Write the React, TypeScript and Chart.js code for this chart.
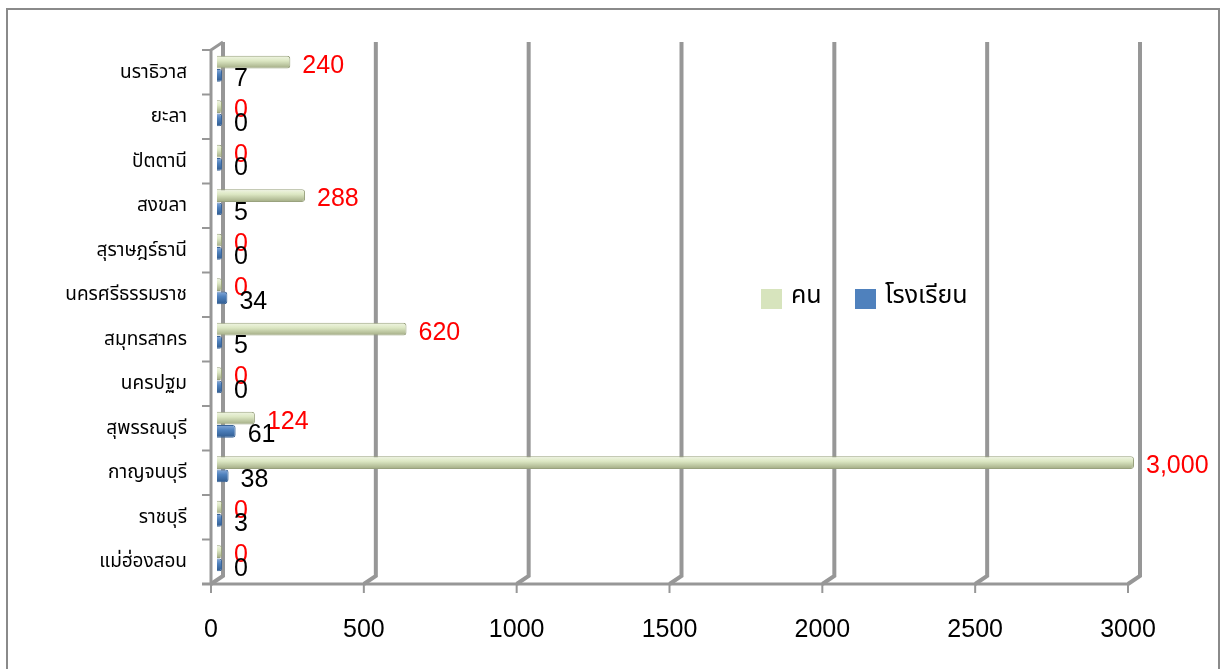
import React, { useEffect, useRef } from 'react';
import { Chart, registerables } from 'chart.js';

Chart.register(...registerables);

const provinces = [
  'นราธิวาส',
  'ยะลา',
  'ปัตตานี',
  'สงขลา',
  'สุราษฎร์ธานี',
  'นครศรีธรรมราช',
  'สมุทรสาคร',
  'นครปฐม',
  'สุพรรณบุรี',
  'กาญจนบุรี',
  'ราชบุรี',
  'แม่ฮ่องสอน',
];
const people = [240, 0, 0, 288, 0, 0, 620, 0, 124, 3000, 0, 0];
const schools = [7, 0, 0, 5, 0, 34, 5, 0, 61, 38, 3, 0];
const seriesNames = ['คน', 'โรงเรียน'];
const xTicks = [0, 500, 1000, 1500, 2000, 2500, 3000];

const NUM_FONT = '"Liberation Sans", Arial, sans-serif';
const THAI_FONT = '"Noto Sans Thai", Tahoma, "Noto Sans", "DejaVu Sans", sans-serif';
const CAT_PCT = 0.6;
const BAR_PCT = 0.95;
const BACK = { dx: 6, dy: -4.5 };
const FRONT = { dx: -6, dy: 3.5 };
const GRID = '#979797';

function barGradient(light: string, mid: string, dark: string) {
  return (c: any) => {
    const chart = c.chart;
    const ys = chart.scales && chart.scales.y;
    if (!ys || c.dataIndex === undefined || !chart.chartArea) return mid;
    const cat = ys.height / provinces.length;
    const slot = (cat * CAT_PCT) / 2;
    const center = ys.getPixelForValue(c.dataIndex) + (c.datasetIndex - 0.5) * slot;
    const h = slot * BAR_PCT;
    const g = chart.ctx.createLinearGradient(0, center - h / 2, 0, center + h / 2);
    g.addColorStop(0, light);
    g.addColorStop(0.4, mid);
    g.addColorStop(1, dark);
    return g;
  };
}

const framePlugin = {
  id: 'frame',
  beforeDraw(chart: any) {
    const { ctx, width, height } = chart;
    ctx.save();
    ctx.fillStyle = '#ffffff';
    ctx.fillRect(0, 0, width, height);
    ctx.strokeStyle = '#8a8a8a';
    ctx.lineWidth = 2;
    ctx.strokeRect(7, 9, width - 13, height + 20);
    ctx.restore();
  },
};

const wallsPlugin = {
  id: 'walls',
  beforeDatasetsDraw(chart: any) {
    const { ctx, chartArea: a, scales } = chart;
    const x = scales.x;
    const n = provinces.length;
    ctx.save();
    ctx.strokeStyle = GRID;
    ctx.lineCap = 'butt';
    ctx.lineJoin = 'miter';
    const topB = a.top + BACK.dy;
    const botB = a.bottom + BACK.dy;
    const topF = a.top + FRONT.dy;
    const botF = a.bottom + FRONT.dy;
    xTicks.forEach((v) => {
      const px = x.getPixelForValue(v);
      const bx = px + BACK.dx;
      const fx = px + FRONT.dx;
      ctx.lineWidth = 4;
      ctx.beginPath();
      ctx.moveTo(bx, topB);
      ctx.lineTo(bx, botB);
      ctx.lineTo(fx, botF);
      ctx.stroke();
      ctx.lineWidth = 2;
      ctx.beginPath();
      ctx.moveTo(fx, botF);
      ctx.lineTo(fx, botF + 9);
      ctx.stroke();
    });
    const fx0 = x.getPixelForValue(0) + FRONT.dx;
    const bx0 = x.getPixelForValue(0) + BACK.dx;
    const fxEnd = x.getPixelForValue(3000) + FRONT.dx;
    ctx.lineWidth = 3;
    ctx.beginPath();
    ctx.moveTo(fx0 - 9, botF);
    ctx.lineTo(fxEnd, botF);
    ctx.stroke();
    ctx.beginPath();
    ctx.moveTo(bx0, topB);
    ctx.lineTo(fx0, topF);
    ctx.lineTo(fx0, botF);
    ctx.stroke();
    ctx.lineWidth = 2;
    for (let i = 0; i < n; i++) {
      const yy = a.top + (i * a.height) / n + FRONT.dy;
      ctx.beginPath();
      ctx.moveTo(fx0 - 9, yy);
      ctx.lineTo(fx0, yy);
      ctx.stroke();
    }
    ctx.restore();
  },
};

const labelsPlugin = {
  id: 'valueLabels',
  afterDatasetsDraw(chart: any) {
    const { ctx } = chart;
    ctx.save();
    ctx.font = `25px ${NUM_FONT}`;
    ctx.textAlign = 'left';
    ctx.textBaseline = 'middle';
    chart.data.datasets.forEach((ds: any, di: number) => {
      const meta = chart.getDatasetMeta(di);
      meta.data.forEach((el: any, i: number) => {
        const v = ds.data[i] as number;
        ctx.fillStyle = di === 0 ? '#ff0000' : '#000000';
        ctx.fillText(v.toLocaleString('en-US'), el.x + 12, el.y + 4);
      });
    });
    ctx.restore();
  },
};

const legendPlugin = {
  id: 'insideLegend',
  afterDraw(chart: any) {
    const { ctx } = chart;
    const colors = ['#d7e4bd', '#4f81bd'];
    const xs = [761, 855];
    ctx.save();
    ctx.font = `25px ${THAI_FONT}`;
    ctx.textAlign = 'left';
    ctx.textBaseline = 'middle';
    seriesNames.forEach((name, i) => {
      ctx.fillStyle = colors[i];
      ctx.fillRect(xs[i], 289, 21, 20);
      ctx.fillStyle = '#000000';
      ctx.fillText(name, xs[i] + 30, 298);
    });
    ctx.restore();
  },
};

export default function App() {
  const ref = useRef<HTMLCanvasElement>(null);
  useEffect(() => {
    if (!ref.current) return;
    const chart = new Chart(ref.current, {
      type: 'bar',
      data: {
        labels: provinces,
        datasets: [
          {
            label: seriesNames[0],
            data: people,
            backgroundColor: barGradient('#f1f6e4', '#dce7c3', '#a2ab84'),
            borderColor: '#99a27e',
            borderWidth: 1,
            borderRadius: 3,
            borderSkipped: 'start',
            categoryPercentage: CAT_PCT,
            barPercentage: BAR_PCT,
            minBarLength: 5,
          },
          {
            label: seriesNames[1],
            data: schools,
            backgroundColor: barGradient('#86a9d8', '#4f81bd', '#2e5a8e'),
            borderColor: '#3a6498',
            borderWidth: 1,
            borderRadius: 3,
            borderSkipped: 'start',
            categoryPercentage: CAT_PCT,
            barPercentage: BAR_PCT,
            minBarLength: 5,
          },
        ],
      },
      options: {
        indexAxis: 'y',
        animation: false,
        responsive: false,
        maintainAspectRatio: false,
        devicePixelRatio: 1,
        layout: { padding: { top: 46.5, right: 91, left: 0, bottom: 0 } },
        plugins: {
          legend: { display: false },
          tooltip: { enabled: false },
          title: { display: false },
        },
        scales: {
          x: {
            type: 'linear',
            min: 0,
            max: 3000,
            position: 'bottom',
            grid: { display: false, drawTicks: false },
            border: { display: false },
            ticks: {
              stepSize: 500,
              color: '#000000',
              font: { family: NUM_FONT, size: 25 },
              padding: 35,
              labelOffset: -6,
              maxRotation: 0,
              autoSkip: false,
              callback: (v: any) => String(v),
            },
            afterFit: (s: any) => {
              s.height = 88.5;
            },
          },
          y: {
            type: 'category',
            grid: { display: false, drawTicks: false },
            border: { display: false },
            ticks: {
              color: '#000000',
              font: { family: THAI_FONT, size: 19 },
              padding: 30,
              labelOffset: 5,
              autoSkip: false,
            },
            afterFit: (s: any) => {
              s.width = 217;
            },
          },
        },
      } as any,
      plugins: [framePlugin, wallsPlugin, labelsPlugin, legendPlugin],
    });
    return () => chart.destroy();
  }, []);
  return (
    <div style={{ position: 'fixed', left: 0, top: 0, width: 1225, height: 669, background: '#fff' }}>
      <canvas ref={ref} width={1225} height={669} style={{ display: 'block', width: 1225, height: 669 }} />
    </div>
  );
}
